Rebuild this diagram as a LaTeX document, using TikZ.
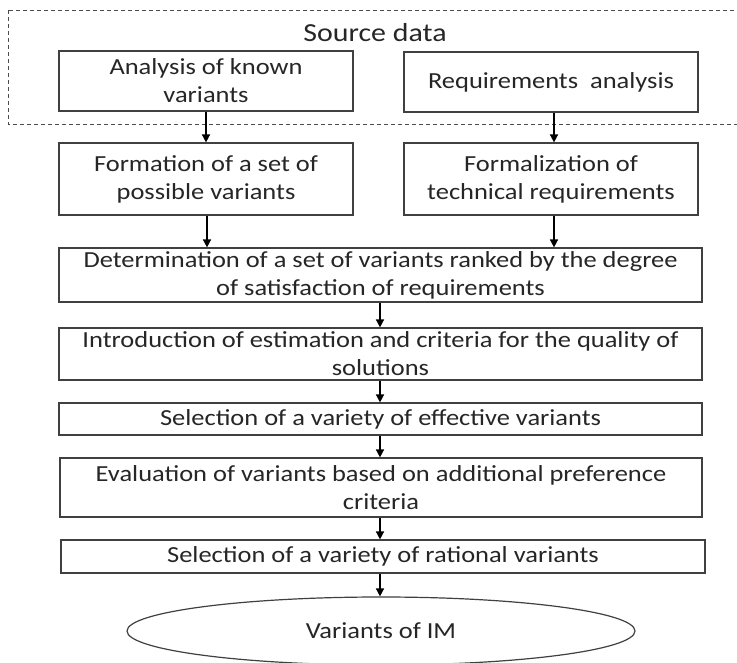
\documentclass[tikz,border=0pt]{standalone}
\usepackage{fontspec}
\setmainfont{Carlito}[FakeStretch=1.15]
\usetikzlibrary{arrows.meta,shapes.geometric}

\begin{document}
\begin{tikzpicture}[x=1pt,y=-1pt,
  stage/.style={draw=black!75,line width=1.2pt,inner sep=0pt,align=center,text=black!85,font=\fontsize{23}{28}\selectfont},
  result/.style={stage,ellipse},
  flow/.style={draw=black,line width=1.6pt,-{Triangle[width=8pt,length=8pt]}},
  frame/.style={draw=black!70,line width=0.9pt,dash pattern=on 4pt off 3pt}]
\useasboundingbox (0,0) rectangle (737,663);
\fill[white] (0,0) rectangle (737,663);
\draw[frame] (8,10) rectangle (740,124);
\node[anchor=base,font=\fontsize{26}{30}\selectfont,text=black!85] (src) at (375,42) {Source data};
\node[stage,minimum width=294,minimum height=60] (known) at (206,81) {Analysis of known\\variants};
\node[stage,minimum width=294,minimum height=60] (reqs) at (551,82) {Requirements\ \ analysis};
\node[stage,minimum width=294,minimum height=72] (form) at (206,179) {Formation of a set of\\possible variants};
\node[stage,minimum width=294,minimum height=72] (formal) at (551,179) {Formalization of\\technical requirements};
\node[stage,minimum width=643,minimum height=54] (rank) at (380.5,275) {Determination of a set of variants ranked by the degree\\of satisfaction of requirements};
\node[stage,minimum width=643,minimum height=52] (crit) at (380.5,354) {Introduction of estimation and criteria for the quality of\\solutions};
\node[stage,minimum width=643,minimum height=32] (eff) at (380.5,419) {Selection of a variety of effective\ variants};
\node[stage,minimum width=642,minimum height=59] (pref) at (381,487.5) {Evaluation of variants based on additional preference\\criteria};
\node[stage,minimum width=644,minimum height=33] (rat) at (383,556.5) {Selection of a variety of rational variants};
\node[result,minimum width=508,minimum height=68] (im) at (381,631) {Variants of IM};
\draw[flow] (known) -- (form);
\draw[flow] (reqs.south -| 554,0) -- (formal.north -| 554,0);
\draw[flow] (form.south -| 207,0) -- (rank.north -| 207,0);
\draw[flow] (formal.south -| 554,0) -- (rank.north -| 554,0);
\draw[flow] (rank.south -| 380,0) -- (crit.north -| 380,0);
\draw[flow] (crit.south -| 380,0) -- (eff.north -| 380,0);
\draw[flow] (eff.south -| 380,0) -- (pref.north -| 380,0);
\draw[flow] (pref.south -| 380,0) -- (rat.north -| 380,0);
\draw[flow] (rat.south -| 380,0) -- (im.north -| 380,0);
\end{tikzpicture}
\end{document}
